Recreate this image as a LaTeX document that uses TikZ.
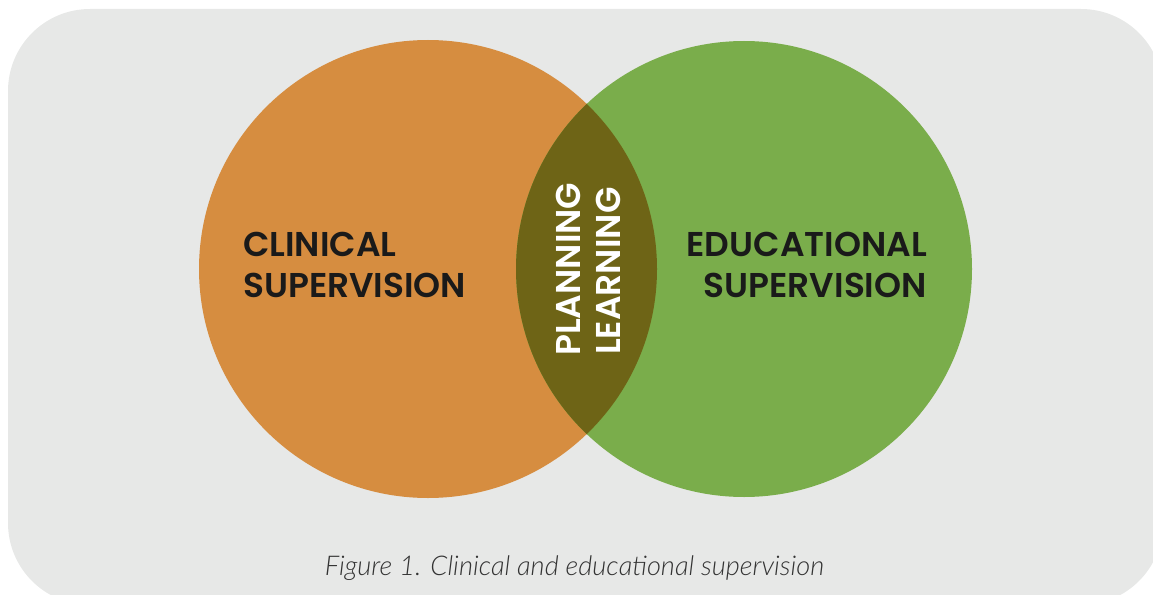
\documentclass[tikz,border=0pt]{standalone}
\usepackage{fontspec}
\newfontfamily\labfont{Poppins SemiBold}
\newfontfamily\capfont{Lato Light Italic}
\definecolor{bg}{HTML}{E7E8E7}
\definecolor{corange}{HTML}{D68D40}
\definecolor{cgreen}{HTML}{7AAD4B}
\definecolor{clens}{HTML}{6E6416}
\definecolor{ink}{HTML}{1A1A1A}
\definecolor{capink}{HTML}{333333}
\tikzset{
  lab/.style={font=\labfont\fontsize{34.4}{40}\selectfont, text=ink, inner sep=0pt},
  vlab/.style={font=\labfont\fontsize{34.4}{40}\selectfont, text=white, inner sep=0pt, rotate=90, anchor=base west},
  captext/.style={font=\capfont\fontsize{27.2}{30}\selectfont, text=capink, inner sep=0pt, anchor=base}
}
\begin{document}
\begin{tikzpicture}[x=1pt,y=-1pt]
\useasboundingbox (0,0) rectangle (1153,594);
\begin{scope}
\clip (0,0) rectangle (1153,594);
\fill[bg, rounded corners=82pt] (8,9) rectangle (1163,605);
\end{scope}
\fill[corange] (428,269) circle [radius=229];
\fill[cgreen] (744,269) circle [radius=228];
\begin{scope}
\clip (428,269) circle [radius=229];
\fill[clens] (744,269) circle [radius=228];
\end{scope}
\node[lab, anchor=base west] (cl1) at (243,256) {CLINICAL};
\node[lab, anchor=base west] (cl2) at (243,297) {SUPERVISION};
\node[lab, anchor=base east] (ed1) at (927,256) {EDUCATIONAL};
\node[lab, anchor=base east] (ed2) at (927,297) {SUPERVISION};
\node[vlab] (pl) at (580,356) {PLANNING};
\node[vlab] (le) at (620,355) {LEARNING};
\node[captext] (caption) at (574.5,575) {Figure 1. Clinical and educational supervision};
\end{tikzpicture}
\end{document}
